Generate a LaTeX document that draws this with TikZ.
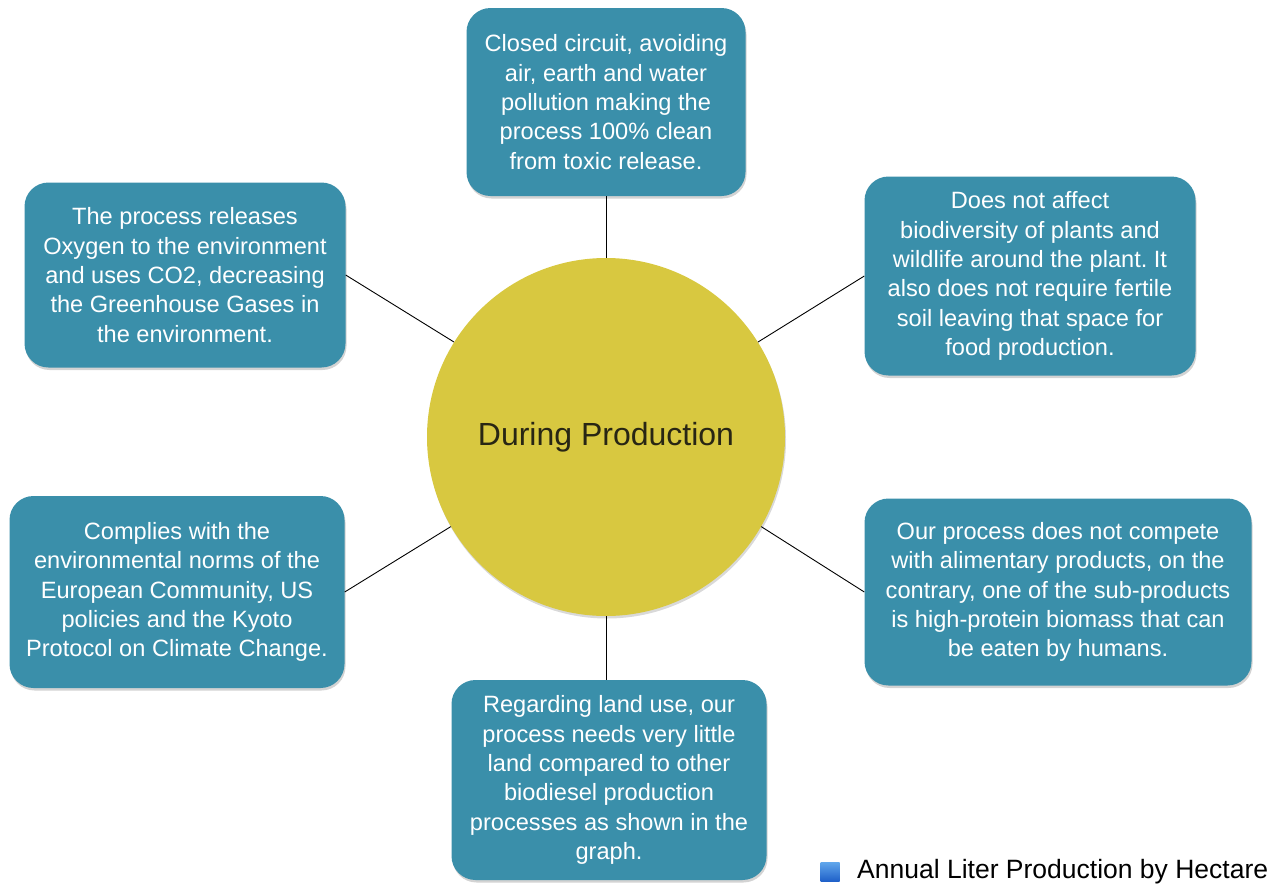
\documentclass[tikz,border=0pt]{standalone}
\usepackage{fontspec}
\setmainfont{Liberation Sans}
\frenchspacing
\usetikzlibrary{shadows}
\definecolor{boxteal}{RGB}{58,143,170}
\definecolor{circyellow}{RGB}{216,200,64}
\definecolor{centertext}{RGB}{40,38,20}
\definecolor{legtop}{RGB}{95,165,235}
\definecolor{legbot}{RGB}{30,95,200}
\tikzset{
  infobox/.style={draw=none, fill=boxteal, rounded corners=24pt, text=white, align=center,
    font=\fontsize{23.6}{29.3}\selectfont, inner sep=0pt,
    drop shadow={opacity=0.35, shadow xshift=1pt, shadow yshift=-2.5pt}},
  link/.style={draw=black, line width=0.9pt},
}
\begin{document}
\begin{tikzpicture}[x=1pt,y=-1pt]
\useasboundingbox (0,0) rectangle (1284,884);
\node[circle, fill=circyellow, minimum size=358pt, inner sep=0pt,
  drop shadow={opacity=0.3, shadow xshift=1pt, shadow yshift=-2.5pt},
  font=\fontsize{32}{36}\selectfont, text=centertext] (c) at (606,437) {\raisebox{-3pt}{During Production}};

\node[infobox, minimum width=279pt, minimum height=188pt] (t) at (606,102)
  {Closed circuit, avoiding\\air, earth and water\\pollution making the\\process 100\% clean\\from toxic release.};
\node[infobox, minimum width=321pt, minimum height=185pt] (tl) at (185,275)
  {The process releases\\Oxygen to the environment\\and uses CO2, decreasing\\the Greenhouse Gases in\\the environment.};
\node[infobox, minimum width=331pt, minimum height=199pt] (tr) at (1030,276)
  {Does not affect\\biodiversity of plants and\\wildlife around the plant. It\\also does not require fertile\\soil leaving that space for\\food production.};
\node[infobox, minimum width=335pt, minimum height=192pt] (bl) at (177,592)
  {Complies with the\\environmental norms of the\\European Community, US\\policies and the Kyoto\\Protocol on Climate Change.};
\node[infobox, minimum width=387pt, minimum height=187pt] (br) at (1058,592)
  {Our process does not compete\\with alimentary products, on the\\contrary, one of the sub-products\\is high-protein biomass that can\\be eaten by humans.};
\node[infobox, minimum width=315pt, minimum height=200pt] (b) at (609,780)
  {Regarding land use, our\\process needs very little\\land compared to other\\biodiesel production\\processes as shown in the\\graph.};

\draw[link] (t.south) -- (c.north);
\draw[link] (tl.east) -- (c.148);
\draw[link] (tr.west) -- (c.32);
\draw[link] (bl.east) -- (c.210);
\draw[link] (br.west) -- (c.330);
\draw[link] (c.south) -- (c.south |- b.north);

\node[minimum size=19pt, inner sep=0pt, top color=legtop, bottom color=legbot] (lg) at (830,872) {};
\node[anchor=west, font=\fontsize{26.5}{30}\selectfont, inner sep=0pt] (lgt) at (857,872) {Annual Liter Production by Hectare};
\end{tikzpicture}
\end{document}
